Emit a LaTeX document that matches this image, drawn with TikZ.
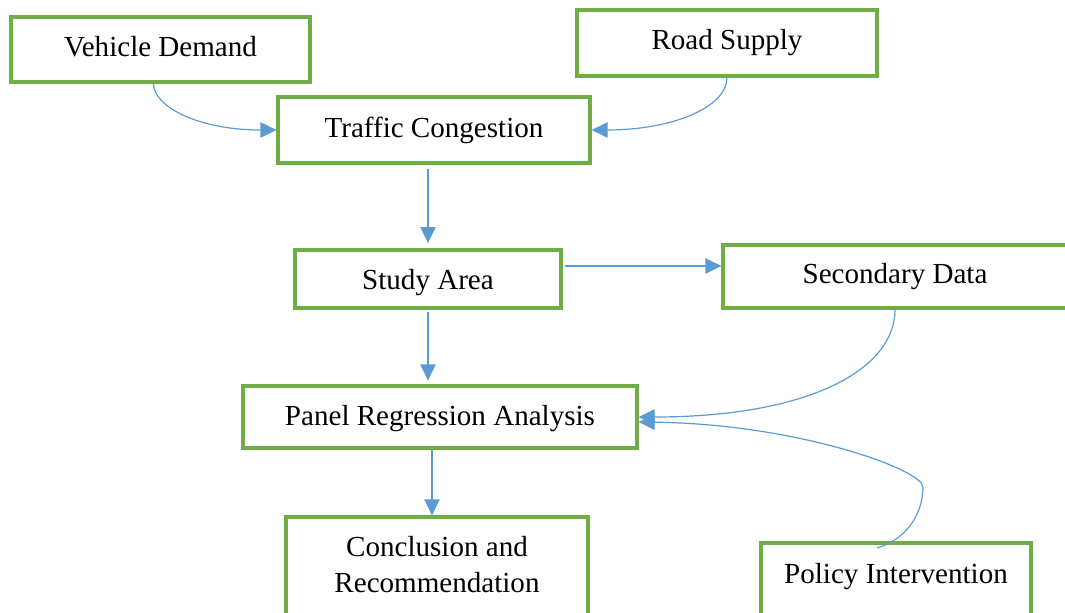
\documentclass[tikz,border=0pt]{standalone}
\usepackage{fontspec}
\setmainfont{Liberation Serif}
\usetikzlibrary{arrows.meta, positioning, calc}
\definecolor{boxgreen}{RGB}{112, 173, 71}
\definecolor{flowblue}{RGB}{91, 155, 213}

\begin{document}
\begin{tikzpicture}[x=0.75pt, y=-0.75pt,
  stage/.style={draw=boxgreen, line width=2.4pt, fill=white, inner sep=0pt,
                align=center, font=\fontsize{21.8}{27}\selectfont},
  flow/.style={draw=flowblue, line width=0.9pt,
               -{Triangle[length=12pt, width=11.5pt]}}]

  \clip (0,0) rectangle (1065,613);

  % boxes
  \node[stage, minimum width=224.3pt, minimum height=48.8pt, text depth=4.5pt] (vd) at (160.5,49.5) {Vehicle Demand};
  \node[stage, minimum width=225pt, minimum height=49.5pt] (rs) at (727,43) {Road Supply};
  \node[stage, minimum width=234pt, minimum height=49.5pt] (tc) at (434,130) {Traffic Congestion};
  \node[stage, minimum width=199.5pt, minimum height=43.5pt, text height=21pt] (sa) at (428,279) {Study Area};
  \node[stage, minimum width=258pt, minimum height=47.3pt] (sd) at (895,276.5) {Secondary Data};
  \node[stage, minimum width=295.5pt, minimum height=46.5pt, text height=17.9pt] (pra) at (440,417) {Panel Regression Analysis};
  \node[stage, minimum width=226.5pt, minimum height=77.3pt, text depth=6pt] (cr) at (437,568.5) {Conclusion and\\Recommendation};
  \node[stage, minimum width=202.5pt, minimum height=57pt, text depth=10.7pt] (pi) at (896,581) {Policy Intervention};

  \coordinate (pistart) at (877,548);
  \coordinate (pibend) at (923,487);

  % connectors
  \draw[flow] ($(vd.south)+(-7,0)$) .. controls +(0,23) and +(-78,0) .. (tc.west);
  \draw[flow] (rs.south) .. controls +(0,30) and +(80,0) .. (tc.east);
  \draw[flow, shorten <=3pt, shorten >=4pt] (sa.north |- tc.south) -- (sa.north);
  \draw[flow, shorten <=1.5pt] ([yshift=9.75pt]sa.east) -- ([yshift=9.75pt]sa.east -| sd.west);
  \draw[flow, shorten <=1.5pt, shorten >=3pt] (sa.south) -- (sa.south |- pra.north);
  \draw[flow] (sd.south) .. controls +(0,60) and +(170,0) .. (pra.east);
  \draw[flow] (pistart) .. controls +(28,-8) and +(0,28) .. (pibend)
              .. controls +(0,-17) and +(160,2) .. ([yshift=-3.75pt]pra.east);
  \draw[flow] ([xshift=-6pt]pra.south) -- ([xshift=-6pt]pra.south |- cr.north);

\end{tikzpicture}
\end{document}
